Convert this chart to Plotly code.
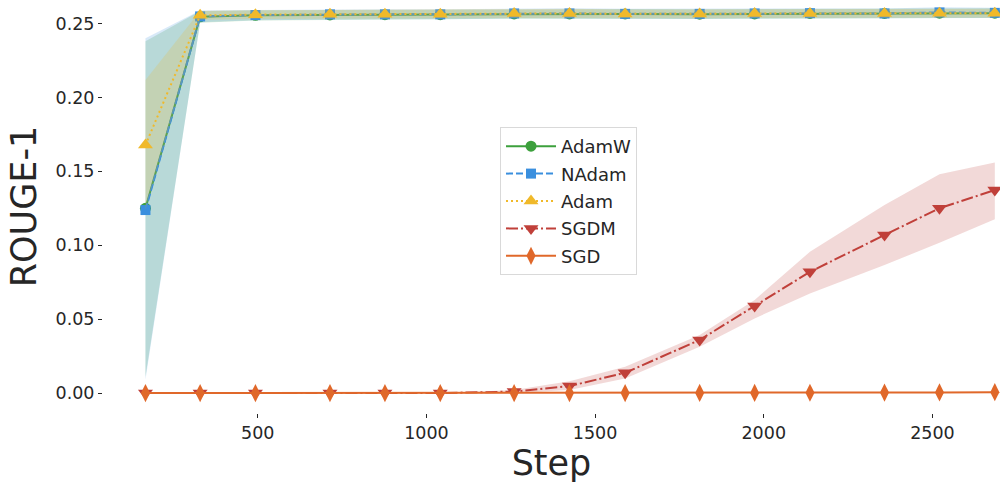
import plotly.graph_objects as go

steps = [167, 329, 493, 714, 877, 1041, 1260, 1424, 1589, 1810, 1973, 2137, 2358, 2521, 2685]

adamw = [0.125, 0.2545, 0.2555, 0.2558, 0.256, 0.256, 0.2565, 0.2565, 0.2565, 0.2563, 0.2565, 0.2568, 0.2568, 0.257, 0.257]
adamw_lo = [0.011, 0.2505, 0.2520, 0.2525, 0.2528, 0.2528, 0.2532, 0.2530, 0.2532, 0.2530, 0.2532, 0.2535, 0.2535, 0.2537, 0.2537]
adamw_hi = [0.238, 0.2585, 0.2590, 0.2592, 0.2593, 0.2593, 0.2598, 0.2598, 0.2598, 0.2596, 0.2598, 0.2600, 0.2600, 0.2603, 0.2603]

nadam = [0.1238, 0.2548, 0.2557, 0.2562, 0.2562, 0.2562, 0.2568, 0.2568, 0.2565, 0.2565, 0.2568, 0.257, 0.2568, 0.2575, 0.2572]
nadam_lo = [0.009, 0.2508, 0.2522, 0.2528, 0.2528, 0.2528, 0.2535, 0.2533, 0.2530, 0.2530, 0.2534, 0.2536, 0.2534, 0.2540, 0.2538]
nadam_hi = [0.240, 0.2588, 0.2592, 0.2596, 0.2596, 0.2596, 0.2601, 0.2603, 0.2600, 0.2600, 0.2602, 0.2604, 0.2602, 0.2610, 0.2606]

adam = [0.1678, 0.2555, 0.256, 0.2563, 0.2563, 0.2563, 0.2568, 0.2568, 0.2565, 0.2565, 0.2568, 0.2568, 0.2568, 0.257, 0.257]
adam_lo = [0.124, 0.2525, 0.2530, 0.2533, 0.2533, 0.2533, 0.2537, 0.2537, 0.2535, 0.2535, 0.2537, 0.2537, 0.2537, 0.2540, 0.2540]
adam_hi = [0.2118, 0.2585, 0.2590, 0.2593, 0.2593, 0.2593, 0.2599, 0.2599, 0.2595, 0.2595, 0.2599, 0.2599, 0.2599, 0.2600, 0.2600]

sgdm = [0.0, 0.0, 0.0, 0.0, 0.0, 0.0, 0.001, 0.0047, 0.0137, 0.0359, 0.0589, 0.082, 0.1069, 0.125, 0.1373]
sgdm_lo = [0.0, 0.0, 0.0, 0.0, 0.0, 0.0, 0.0, 0.002, 0.0099, 0.0313, 0.0505, 0.0674, 0.0866, 0.1017, 0.1175]
sgdm_hi = [0.0, 0.0, 0.0, 0.0, 0.0, 0.0, 0.002, 0.008, 0.0178, 0.0392, 0.063, 0.0956, 0.1272, 0.148, 0.156]

sgd = [0.0, 0.0, 0.0, 0.0, 0.0, 0.0, 0.0, 0.0, 0.0, 0.0001, 0.0001, 0.0002, 0.0003, 0.0004, 0.0006]
sgd_lo = [0.0, 0.0, 0.0, 0.0, 0.0, 0.0, 0.0, 0.0, 0.0, 0.0, 0.0, 0.0001, 0.0001, 0.0002, 0.0003]
sgd_hi = [0.0, 0.0, 0.0, 0.0, 0.0, 0.0, 0.0, 0.0, 0.0, 0.0002, 0.0002, 0.0003, 0.0005, 0.0006, 0.0009]

x_ticks = [500, 1000, 1500, 2000, 2500]
y_ticks = [0.00, 0.05, 0.10, 0.15, 0.20, 0.25]

series = [
    ("AdamW", adamw, adamw_lo, adamw_hi, (60, 160, 60), "solid", "circle", 11),
    ("NAdam", nadam, nadam_lo, nadam_hi, (58, 143, 222), "7px,3px", "square", 10),
    ("Adam", adam, adam_lo, adam_hi, (240, 185, 42), "2px,3px", "triangle-up", 13),
    ("SGDM", sgdm, sgdm_lo, sgdm_hi, (192, 64, 58), "12px,3px,2px,3px", "triangle-down", 13),
    ("SGD", sgd, sgd_lo, sgd_hi, (224, 104, 42), "solid", "diamond-tall", 13),
]

fig = go.Figure()
for name, y, lo, hi, rgb, dash, sym, msize in series:
    col = "rgb(%d,%d,%d)" % rgb
    fcol = "rgba(%d,%d,%d,0.2)" % rgb
    fig.add_trace(go.Scatter(x=steps, y=lo, mode="lines", line=dict(width=0, color=fcol),
                             showlegend=False, hoverinfo="skip"))
    fig.add_trace(go.Scatter(x=steps, y=hi, mode="lines", line=dict(width=0, color=fcol),
                             fill="tonexty", fillcolor=fcol, showlegend=False, hoverinfo="skip"))
    fig.add_trace(go.Scatter(x=steps, y=y, mode="lines+markers", name=name, legendgroup=name,
                             line=dict(color=col, width=2, dash=dash),
                             marker=dict(symbol=sym, size=msize, color=col, line=dict(width=0))))

fig.update_layout(
    width=1000, height=484,
    margin=dict(l=103, r=0, t=0, b=71),
    paper_bgcolor="white", plot_bgcolor="white",
    font=dict(family="DejaVu Sans", color="#262626"),
    showlegend=True,
    legend=dict(x=0.4426, y=0.6925, xanchor="left", yanchor="top",
                bgcolor="white", bordercolor="#d9d9d9", borderwidth=1,
                font=dict(size=18, color="#262626"), tracegroupgap=1,
                traceorder="grouped", itemwidth=50),
    xaxis=dict(range=[41.1, 2700.4], tickvals=x_ticks, ticktext=[str(v) for v in x_ticks],
               showgrid=False, zeroline=False, showline=False,
               ticks="outside", ticklen=4, tickcolor="#262626", tickwidth=1,
               tickfont=dict(size=17.5, color="#262626"),
               title=dict(text="Step", font=dict(size=35, color="#262626"), standoff=6)),
    yaxis=dict(range=[-0.0135, 0.2659], tickvals=y_ticks, ticktext=["%.2f" % v for v in y_ticks],
               showgrid=False, zeroline=False, showline=False,
               ticks="outside", ticklen=4, tickcolor="#262626", tickwidth=1,
               tickfont=dict(size=17.5, color="#262626"),
               title=dict(text="ROUGE-1", font=dict(size=35, color="#262626"), standoff=8)),
)

fig.write_html("out.html")
